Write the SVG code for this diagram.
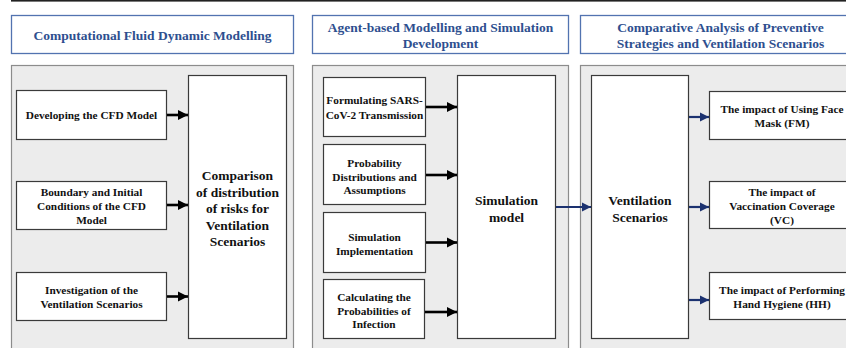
<svg xmlns="http://www.w3.org/2000/svg" width="846" height="348" viewBox="0 0 846 348">
  <defs>
    <style>
      .hdr { fill: #ffffff; stroke: #5273b0; stroke-width: 1.3; }
      .hdr-t { font-family: "Liberation Serif", "Times New Roman", serif; font-weight: bold; font-size: 13.5px; fill: #2e4f8f; text-anchor: middle; }
      .panel { fill: #ececec; stroke: #8c8c8c; stroke-width: 1.2; }
      .box { fill: #ffffff; stroke: #3a3a3a; stroke-width: 1.2; }
      .t { font-family: "Liberation Serif", "Times New Roman", serif; font-weight: bold; font-size: 11.3px; fill: #111111; text-anchor: middle; }
      .tb { font-family: "Liberation Serif", "Times New Roman", serif; font-weight: bold; font-size: 13.5px; fill: #111111; text-anchor: middle; }
      .blk { stroke: #000000; stroke-width: 2.6; fill: none; }
      .nav { stroke: #1c3270; stroke-width: 2.2; fill: none; }
    </style>
    <marker id="ahBlack" viewBox="0 0 10 10" refX="10" refY="5" markerWidth="4" markerHeight="4" markerUnits="strokeWidth" orient="auto">
      <path d="M0,0 L10,5 L0,10 Z" fill="#000000"/>
    </marker>
    <marker id="ahNavy" viewBox="0 0 10 10" refX="10" refY="5" markerWidth="4.2" markerHeight="4.2" markerUnits="strokeWidth" orient="auto">
      <path d="M0,0 L10,5 L0,10 Z" fill="#1c3270"/>
    </marker>
  </defs>

  <rect width="846" height="348" fill="#ffffff"/>
  <!-- rule along the top edge -->
  <rect x="11" y="0" width="835" height="1.6" fill="#222222"/>

  <!-- section headers -->
  <g id="header-cfd">
    <rect class="hdr" x="11.5" y="15.5" width="282" height="38"/>
    <text class="hdr-t" x="152.5" y="39.5">Computational Fluid Dynamic Modelling</text>
  </g>
  <g id="header-abm">
    <rect class="hdr" x="312.5" y="15.5" width="256" height="38"/>
    <text class="hdr-t" x="440.5" y="31.5">Agent-based Modelling and Simulation</text>
    <text class="hdr-t" x="440.5" y="48">Development</text>
  </g>
  <g id="header-comparative">
    <rect class="hdr" x="580.5" y="15.5" width="290" height="38"/>
    <text class="hdr-t" x="720.5" y="31.5">Comparative Analysis of Preventive</text>
    <text class="hdr-t" x="720.5" y="48">Strategies and Ventilation Scenarios</text>
  </g>

  <!-- section panels -->
  <g id="panel-cfd"><rect class="panel" x="11.5" y="65.5" width="282" height="300"/></g>
  <g id="panel-abm"><rect class="panel" x="312.5" y="65.5" width="256" height="300"/></g>
  <g id="panel-comparative"><rect class="panel" x="580.5" y="65.5" width="300" height="300"/></g>

  <!-- CFD column -->
  <g id="developing-cfd">
    <rect class="box" x="16.5" y="90.5" width="150" height="49"/>
    <text class="t" x="91.5" y="119">Developing the CFD Model</text>
  </g>
  <g id="boundary-conditions">
    <rect class="box" x="16.5" y="181.5" width="150" height="48"/>
    <text class="t" x="91.5" y="196">Boundary and Initial</text>
    <text class="t" x="91.5" y="210">Conditions of the CFD</text>
    <text class="t" x="91.5" y="224">Model</text>
  </g>
  <g id="investigation">
    <rect class="box" x="16.5" y="272.5" width="150" height="48"/>
    <text class="t" x="91.5" y="294">Investigation of the</text>
    <text class="t" x="91.5" y="308">Ventilation Scenarios</text>
  </g>
  <g id="comparison">
    <rect class="box" x="188.5" y="75.5" width="98" height="263"/>
    <text class="tb" x="237.5" y="180">Comparison</text>
    <text class="tb" x="237.5" y="196.5">of distribution</text>
    <text class="tb" x="237.5" y="213">of risks for</text>
    <text class="tb" x="237.5" y="229.5">Ventilation</text>
    <text class="tb" x="237.5" y="246">Scenarios</text>
  </g>

  <!-- ABM column -->
  <g id="formulating">
    <rect class="box" x="323.5" y="77.5" width="102" height="59"/>
    <text class="t" x="374.5" y="104">Formulating SARS-</text>
    <text class="t" x="374.5" y="119">CoV-2 Transmission</text>
  </g>
  <g id="probability">
    <rect class="box" x="323.5" y="144.5" width="102" height="60"/>
    <text class="t" x="374.5" y="167">Probability</text>
    <text class="t" x="374.5" y="180.5">Distributions and</text>
    <text class="t" x="374.5" y="194">Assumptions</text>
  </g>
  <g id="implementation">
    <rect class="box" x="323.5" y="212.5" width="102" height="60"/>
    <text class="t" x="374.5" y="241">Simulation</text>
    <text class="t" x="374.5" y="254.5">Implementation</text>
  </g>
  <g id="calculating">
    <rect class="box" x="323.5" y="279.5" width="101" height="59"/>
    <text class="t" x="374" y="301">Calculating the</text>
    <text class="t" x="374" y="314.5">Probabilities of</text>
    <text class="t" x="374" y="328">Infection</text>
  </g>
  <g id="simulation-model">
    <rect class="box" x="457.5" y="75.5" width="98" height="263"/>
    <text class="tb" x="506.5" y="205">Simulation</text>
    <text class="tb" x="506.5" y="222">model</text>
  </g>

  <!-- comparative column -->
  <g id="ventilation-scenarios">
    <rect class="box" x="591.5" y="75.5" width="97" height="263"/>
    <text class="tb" x="640" y="205">Ventilation</text>
    <text class="tb" x="640" y="222">Scenarios</text>
  </g>
  <g id="face-mask">
    <rect class="box" x="709.5" y="91.5" width="150" height="48"/>
    <text class="t" x="782" y="113">The impact of Using Face</text>
    <text class="t" x="782" y="127">Mask (FM)</text>
  </g>
  <g id="vaccination">
    <rect class="box" x="709.5" y="181.5" width="150" height="47"/>
    <text class="t" x="782" y="196">The impact of</text>
    <text class="t" x="782" y="210">Vaccination Coverage</text>
    <text class="t" x="782" y="224">(VC)</text>
  </g>
  <g id="hand-hygiene">
    <rect class="box" x="709.5" y="272.5" width="150" height="47"/>
    <text class="t" x="782" y="294">The impact of Performing</text>
    <text class="t" x="782" y="307.5">Hand Hygiene (HH)</text>
  </g>

  <!-- connectors -->
  <g id="connectors">
    <line class="blk" x1="167" y1="115" x2="188" y2="115" marker-end="url(#ahBlack)"/>
    <line class="blk" x1="167" y1="205" x2="188" y2="205" marker-end="url(#ahBlack)"/>
    <line class="blk" x1="167" y1="296.5" x2="188" y2="296.5" marker-end="url(#ahBlack)"/>
    <line class="blk" x1="426" y1="107" x2="457" y2="107" marker-end="url(#ahBlack)"/>
    <line class="blk" x1="426" y1="175" x2="457" y2="175" marker-end="url(#ahBlack)"/>
    <line class="blk" x1="426" y1="242.5" x2="457" y2="242.5" marker-end="url(#ahBlack)"/>
    <line class="blk" x1="425" y1="312" x2="457" y2="312" marker-end="url(#ahBlack)"/>
    <line class="nav" x1="556" y1="207" x2="591" y2="207" marker-end="url(#ahNavy)"/>
    <line class="nav" x1="689" y1="117" x2="709" y2="117" marker-end="url(#ahNavy)"/>
    <line class="nav" x1="689" y1="207" x2="709" y2="207" marker-end="url(#ahNavy)"/>
    <line class="nav" x1="689" y1="300" x2="709" y2="300" marker-end="url(#ahNavy)"/>
  </g>
</svg>
